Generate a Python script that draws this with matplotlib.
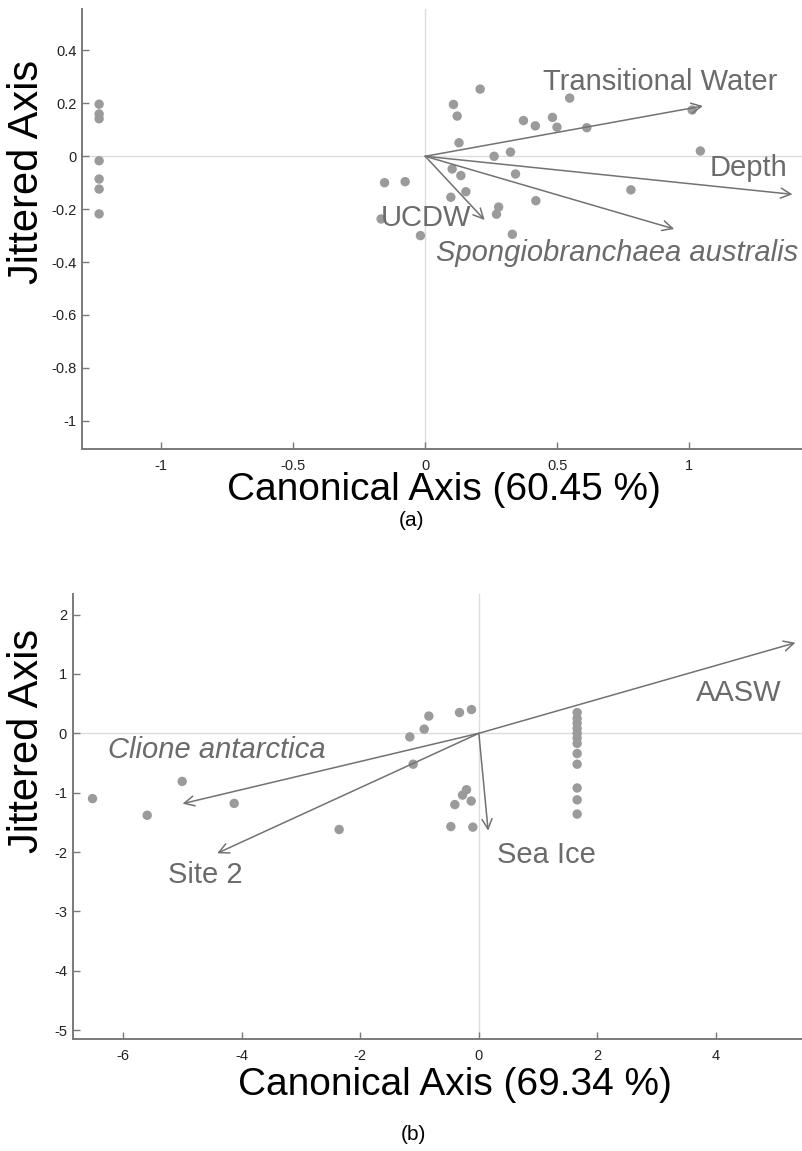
import matplotlib
matplotlib.use("Agg")
import matplotlib.pyplot as plt

plt.rcParams['font.family'] = ['Liberation Sans', 'DejaVu Sans']

# ---------------- Panel (a) data ----------------
a_x = [-1.235, -1.235, -1.235, -1.235, -1.235, -1.235, -1.235,
       -0.154, -0.167, -0.076, 0.208, 0.107, 0.121, 0.128, 0.547, 0.372,
       0.417, 0.482, 0.499, 0.612, 1.011, 1.042, 0.261, 0.323, 0.102,
       0.135, 0.342, 0.154, 0.097, 0.779, 0.419, 0.278, 0.270, -0.018, 0.330]
a_y = [0.197, 0.160, 0.142, -0.017, -0.086, -0.124, -0.218,
       -0.100, -0.237, -0.096, 0.254, 0.196, 0.152, 0.051, 0.220, 0.135,
       0.115, 0.147, 0.110, 0.108, 0.175, 0.020, 0.000, 0.016, -0.048,
       -0.073, -0.067, -0.134, -0.155, -0.127, -0.168, -0.192, -0.219, -0.300, -0.295]
a_vec_names = ["Transitional Water", "Depth", "Spongiobranchaea australis", "UCDW"]
a_vec_x = [1.052, 1.391, 0.943, 0.225]
a_vec_y = [0.190, -0.144, -0.275, -0.241]
a_lab_x = [0.447, 1.077, 0.040, -0.170]
a_lab_y = [0.282, -0.043, -0.367, -0.233]
a_lab_italic = [False, False, True, False]
a_xticks = [-1, -0.5, 0, 0.5, 1]
a_xticklabels = ["-1", "-0.5", "0", "0.5", "1"]
a_yticks = [-1, -0.8, -0.6, -0.4, -0.2, 0, 0.2, 0.4]
a_yticklabels = ["-1", "-0.8", "-0.6", "-0.4", "-0.2", "0", "0.2", "0.4"]

# ---------------- Panel (b) data ----------------
b_x = [-6.515, -5.593, -5.003, -4.126, -2.356,
       -1.164, -0.922, -0.843, -0.326, -0.124, -1.108,
       -0.208, -0.275, -0.405, -0.129, -0.472, -0.101,
       1.658, 1.658, 1.658, 1.658, 1.658, 1.658, 1.658,
       1.658, 1.658, 1.658, 1.658, 1.658]
b_y = [-1.10, -1.38, -0.81, -1.18, -1.62,
       -0.06, 0.07, 0.29, 0.35, 0.40, -0.52,
       -0.95, -1.04, -1.20, -1.14, -1.57, -1.58,
       0.35, 0.25, 0.17, 0.08, 0.00, -0.08, -0.17,
       -0.34, -0.52, -0.92, -1.12, -1.36]
b_vec_names = ["AASW", "Clione antarctica", "Site 2", "Sea Ice"]
b_vec_x = [5.34, -4.997, -4.413, 0.157]
b_vec_y = [1.525, -1.185, -2.02, -1.64]
b_lab_x = [3.66, -6.25, -5.24, 0.30]
b_lab_y = [0.684, -0.28, -2.385, -2.05]
b_lab_italic = [False, True, False, False]
b_xticks = [-6, -4, -2, 0, 2, 4]
b_xticklabels = ["-6", "-4", "-2", "0", "2", "4"]
b_yticks = [-5, -4, -3, -2, -1, 0, 1, 2]
b_yticklabels = ["-5", "-4", "-3", "-2", "-1", "0", "1", "2"]

PT_COL = "#9b9b9b"
ARROW_COL = "#727272"
LAB_COL = "#6b6b6b"
SPINE_COL = "#7a7a7a"
ZERO_COL = "#dcdcdc"

fig = plt.figure(figsize=(8.02, 11.51), dpi=100)


def style_axes(ax, xlim, ylim, xticks, xtl, yticks, ytl):
    ax.set_xlim(*xlim)
    ax.set_ylim(*ylim)
    for s in ["top", "right"]:
        ax.spines[s].set_visible(False)
    for s in ["left", "bottom"]:
        ax.spines[s].set_color(SPINE_COL)
        ax.spines[s].set_linewidth(1.4)
    ax.set_xticks(xticks)
    ax.set_xticklabels(xtl)
    ax.set_yticks(yticks)
    ax.set_yticklabels(ytl)
    ax.tick_params(direction="in", length=5, width=1, color=SPINE_COL,
                   labelsize=10.5, labelcolor="#222222")
    ax.tick_params(axis="x", pad=7)
    ax.tick_params(axis="y", pad=4)
    ax.axhline(0, color=ZERO_COL, lw=1, zorder=0)
    ax.axvline(0, color=ZERO_COL, lw=1, zorder=0)


def draw(ax, px, py, vx, vy, names, lx, ly, italic):
    ax.scatter(px, py, s=46, color=PT_COL, edgecolors="none", zorder=2)
    for x, y in zip(vx, vy):
        ax.annotate("", xy=(x, y), xytext=(0, 0),
                    arrowprops=dict(arrowstyle="->", color=ARROW_COL, lw=1.1,
                                    shrinkA=0, shrinkB=0, mutation_scale=18),
                    zorder=3)
    for n, x, y, it in zip(names, lx, ly, italic):
        ax.text(x, y, n, fontsize=21, color=LAB_COL, ha="left", va="center",
                style="italic" if it else "normal", zorder=4)


# Panel (a)
ax1 = fig.add_axes([0.1022, 0.6099, 0.8978, 0.3823])
style_axes(ax1, (-1.30, 1.427), (-1.107, 0.557),
           a_xticks, a_xticklabels, a_yticks, a_yticklabels)
draw(ax1, a_x, a_y, a_vec_x, a_vec_y, a_vec_names, a_lab_x, a_lab_y, a_lab_italic)
ax1.set_xlabel("Canonical Axis (60.45 %)", fontsize=28, color="black")
ax1.xaxis.label.set_va("center")
ax1.xaxis.set_label_coords(0.503, -0.093)
ax1.set_ylabel("Jittered Axis", fontsize=30, color="black")
ax1.yaxis.label.set_va("center")
ax1.yaxis.set_label_coords(-0.076, 0.63)

# Panel (b)
ax2 = fig.add_axes([0.0906, 0.0973, 0.9094, 0.3866])
style_axes(ax2, (-6.85, 5.45), (-5.147, 2.345),
           b_xticks, b_xticklabels, b_yticks, b_yticklabels)
draw(ax2, b_x, b_y, b_vec_x, b_vec_y, b_vec_names, b_lab_x, b_lab_y, b_lab_italic)
ax2.set_xlabel("Canonical Axis (69.34 %)", fontsize=28, color="black")
ax2.xaxis.label.set_va("center")
ax2.xaxis.set_label_coords(0.524, -0.103)
ax2.set_ylabel("Jittered Axis", fontsize=30, color="black")
ax2.yaxis.label.set_va("center")
ax2.yaxis.set_label_coords(-0.063, 0.67)

fig.text(412 / 802, 1 - 521 / 1151, "(a)", fontsize=15, ha="center", va="center")
fig.text(413 / 802, 1 - 1135 / 1151, "(b)", fontsize=15, ha="center", va="center")

fig.savefig("out.png", dpi=100)
